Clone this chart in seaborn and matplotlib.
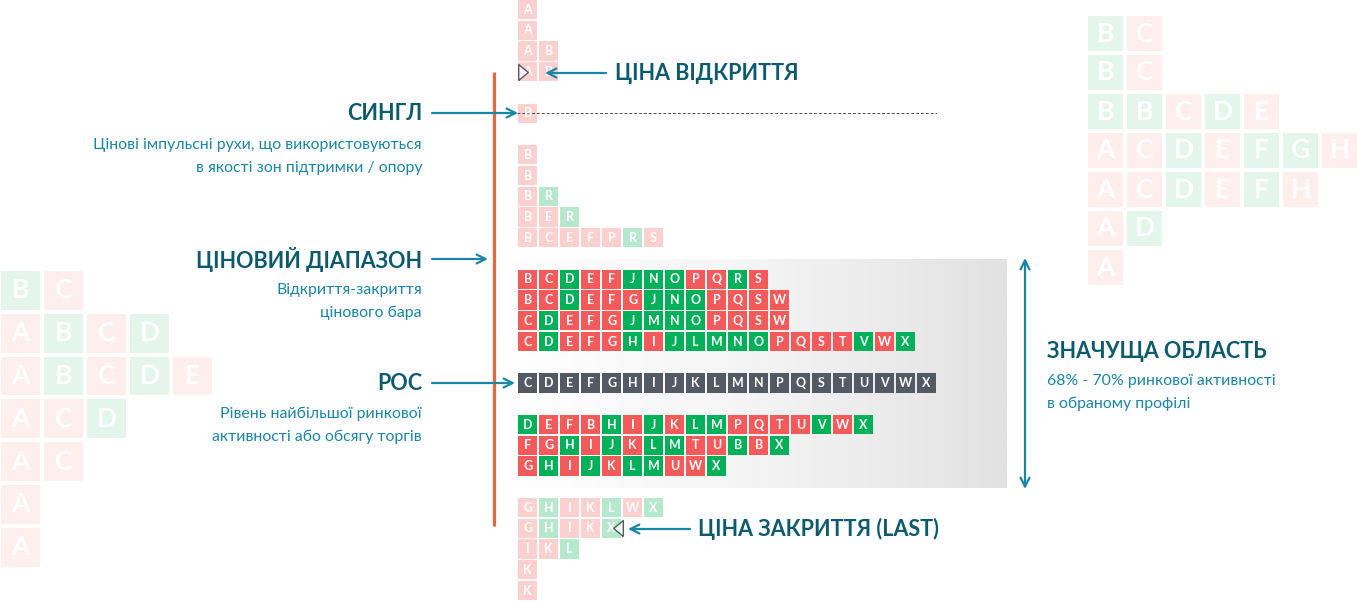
import numpy as np
import pandas as pd
import matplotlib.pyplot as plt
from matplotlib.colors import ListedColormap, LinearSegmentedColormap
import seaborn as sns

sns.set_theme(style="white")
plt.rcParams['font.family'] = ['Lato', 'DejaVu Sans']

W, H = 1357, 602

# main TPO profile, one string per price row (top -> bottom), "" = empty row
# colour codes: r/g light red/green, R/G red/green, P = POC grey
profile_letters = [
    "A", "A", "AB", "AB", "", "B", "", "B", "B", "BR", "BER", "BCEFPRS", "",
    "BCDEFJNOPQRS", "BCDEFGJNOPQSW", "CDEFGJMNOPQSW", "CDEFGHIJLMNOPQSTVWX", "",
    "CDEFGHIJKLMNPQSTUVWX", "",
    "DEFBHIJKLMPQTUVWX", "FGHIJKLMTUBBX", "GHIJKLMUWX", "",
    "GHIKLWX", "GHIKX", "IKL", "K", "K",
]
profile_colors = [
    "r", "r", "rr", "rr", "", "r", "", "r", "r", "rg", "rrg", "rrrrrgr", "",
    "RRGRRGGGRRGR", "RRGRRRGGGRRRR", "RGRRRGGGGRRRR", "RGRRRGRGGGGGRRRRGRG", "",
    "PPPPPPPPPPPPPPPPPPPP", "",
    "GRRRGRGRGGRRRRGRG", "RRGRGRGGRRGRG", "RGRGRGGRRG", "",
    "rgrrgrg", "rgrrg", "rrg", "r", "r",
]
open_row, close_row = 3, 25
single_row = 5

# faded background profiles
right_letters = ["BC", "BC", "BBCDE", "ACDEFGH", "ACDEFH", "AD", "A"]
right_colors = ["gr", "gr", "ggrgr", "rrgrggr", "rrgrgr", "rg", "r"]
left_letters = ["BC", "ABCD", "ABCDE", "ACD", "AC", "A", "A"]
left_colors = ["gr", "rgrg", "rgrgr", "rrg", "rr", "r", "r"]

PALETTE = {"r": "#fdd0d0", "g": "#b5e8cd", "R": "#f55a5a", "G": "#00b159", "P": "#535a64"}
CODES = {"r": 0, "g": 1}
deco_cmap = ListedColormap(["#ffeeee", "#e4f5ec"])

TEAL_DARK = "#0c5a6e"
TEAL = "#1a86a6"


def px_axes(fig, left, top, width, height):
    return fig.add_axes([left / W, (H - top - height) / H, width / W, height / H])


def deco_profile(ax, letters, colors, fs):
    ncols = max(len(s) for s in letters)
    codes = np.full((len(letters), ncols), np.nan)
    annot = np.full((len(letters), ncols), "", dtype=object)
    for i, (ls, cs) in enumerate(zip(letters, colors)):
        for j, (l, c) in enumerate(zip(ls, cs)):
            codes[i, j] = CODES[c]
            annot[i, j] = l
    sns.heatmap(codes, mask=np.isnan(codes), annot=annot, fmt="", cmap=deco_cmap,
                vmin=-0.5, vmax=1.5, cbar=False, linewidths=1.5, linecolor="white",
                xticklabels=False, yticklabels=False, ax=ax,
                annot_kws=dict(color="white", fontsize=fs, fontweight="bold"))
    ax.axis("off")


fig = plt.figure(figsize=(W / 100, H / 100), dpi=100)

# background layer: value-area gradient
bg = fig.add_axes([0, 0, 1, 1])
grad = LinearSegmentedColormap.from_list("g", ["#ffffff", "#f4f4f4", "#e2e2e2"])
bg.imshow(np.linspace(0, 1, 256).reshape(1, -1), cmap=grad, aspect="auto",
          extent=[505, 1007, 488, 259], interpolation="bilinear")
bg.set_xlim(0, W)
bg.set_ylim(H, 0)
bg.axis("off")

# faded decorative profiles
ax_r = px_axes(fig, 1086, 14, 7 * 39, 7 * 39)
deco_profile(ax_r, right_letters, right_colors, 19)
ax_l = px_axes(fig, -1, 269, 5 * 43, 7 * 42.8)
deco_profile(ax_l, left_letters, left_colors, 19)

# main profile as long-form table
cells = pd.DataFrame(
    [dict(row=i, col=j, letter=l, kind=c)
     for i, (ls, cs) in enumerate(zip(profile_letters, profile_colors))
     for j, (l, c) in enumerate(zip(ls, cs))]
)
ax = px_axes(fig, 517.15, -0.78, 20 * 21, 29 * 20.75)
ax.patch.set_alpha(0)
sns.scatterplot(data=cells, x="col", y="row", hue="kind", palette=PALETTE,
                marker="s", s=192, linewidth=0, legend=False, ax=ax)
for r in cells.itertuples():
    ax.text(r.col, r.row, r.letter, ha="center", va="center", color="white",
            fontsize=9, fontweight="bold")
ax.set_xlim(-0.5, 19.5)
ax.set_ylim(28.5, -0.5)
ax.axis("off")

# single print dashed line, open/close markers, open->close range
ax.axhline(single_row, color="#4a4f56", lw=0.7, ls=(0, (3, 2)))
tri = [(-0.6, -1), (-0.6, 1), (0.6, 0), (-0.6, -1)]
ax.plot(-0.22, open_row, marker=tri, ms=11.5, mfc=(1, 1, 1, 0.7), mec="#555b63",
        mew=1, zorder=5)
ax.plot(4.28, close_row, marker=[(-x, y) for x, y in tri], ms=11.5,
        mfc=(1, 1, 1, 0.7), mec="#555b63", mew=1, zorder=5)
ax.vlines(-1.6, open_row, close_row - 0.1, color="#e5673d", lw=2.3, clip_on=False)

# annotation layer
ov = fig.add_axes([0, 0, 1, 1])
ov.set_xlim(0, W)
ov.set_ylim(H, 0)
ov.axis("off")
ov.patch.set_alpha(0)

arrow = dict(arrowstyle="->", color=TEAL, lw=1.6, mutation_scale=16, shrinkA=0, shrinkB=0)


def head(x, y, s, ha="right"):
    ov.text(x, y, s, fontsize=15.5, fontweight="bold", color=TEAL_DARK, ha=ha, va="center")


def desc(x, y, lines, ha="right"):
    for k, s in enumerate(lines):
        ov.text(x, y + k * 23, s, fontsize=11.4, color=TEAL, ha=ha, va="center")


head(615, 73, "ЦІНА ВІДКРИТТЯ", ha="left")
ov.annotate("", xy=(545, 73), xytext=(606, 73), arrowprops=arrow)

head(422, 113, "СИНГЛ")
ov.annotate("", xy=(518, 113), xytext=(432, 113), arrowprops=arrow)
desc(422, 145, ["Цінові імпульсні рухи, що використовуються",
                "в якості зон підтримки / опору"])

head(422, 259, "ЦІНОВИЙ ДІАПАЗОН")
ov.annotate("", xy=(488, 259), xytext=(432, 259), arrowprops=arrow)
desc(422, 290, ["Відкриття-закриття", "цінового бара"])

head(422, 383, "POC")
ov.annotate("", xy=(515, 383), xytext=(432, 383), arrowprops=arrow)
desc(422, 414, ["Рівень найбільшої ринкової", "активності або обсягу торгів"])

head(1047, 351, "ЗНАЧУЩА ОБЛАСТЬ", ha="left")
desc(1047, 381, ["68% - 70% ринкової активності", "в обраному профілі"], ha="left")
ov.annotate("", xy=(1025, 258), xytext=(1025, 489),
            arrowprops=dict(arrow, arrowstyle="<->"))

head(698, 529, "ЦІНА ЗАКРИТТЯ (LAST)", ha="left")
ov.annotate("", xy=(628, 529), xytext=(690, 529), arrowprops=arrow)

fig.savefig("out.png", dpi=100)
